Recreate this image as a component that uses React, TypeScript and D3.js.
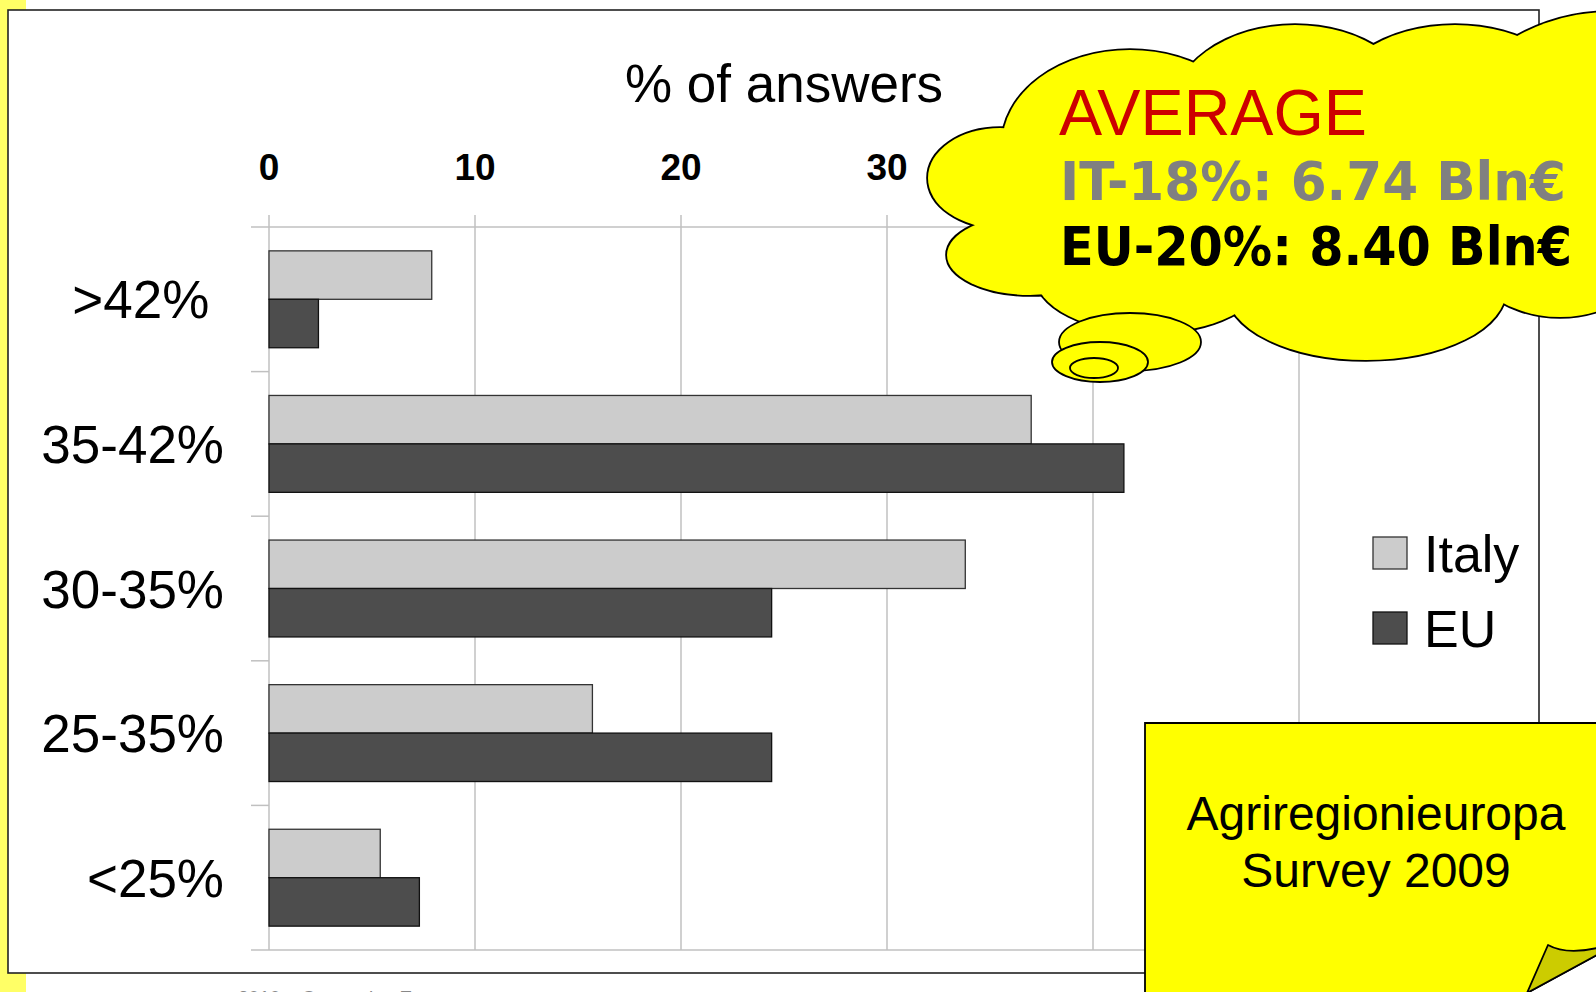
import React from "react";
import * as d3 from "d3";

const categories = [">42% ", "35-42%", "30-35%", "25-35%", "<25%"];
const seriesNames = ["Italy", "EU"];
const italyValues = [7.9, 37.0, 33.8, 15.7, 5.4];
const euValues = [2.4, 41.5, 24.4, 24.4, 7.3];
const xTicks = [0, 10, 20, 30, 40, 50];
const axisTitle = "% of answers";
const calloutTitle = "AVERAGE";
const calloutItaly = "IT-18%: 6.74 Bln€";
const calloutEU = "EU-20%: 8.40 Bln€";
const noteLines = ["Agriregionieuropa", "Survey 2009"];
const footerText = "2010 – Comparing Europe";

const W = 1596;
const H = 992;
const sans = "'Liberation Sans', Arial, Helvetica, sans-serif";
const comic = "'Comic Sans MS', 'DejaVu Sans', sans-serif";

const fills: Record<string, string> = { Italy: "#cccccc", EU: "#4d4d4d" };
const strokes: Record<string, string> = { Italy: "#333333", EU: "#111111" };
const values: Record<string, number[]> = { Italy: italyValues, EU: euValues };

// cloud lobes: [cx, cy, rx, ry]
const lobes: [number, number, number, number][] = [
  [1130, 145, 128, 95],
  [1295, 115, 125, 90],
  [1455, 115, 130, 90],
  [1610, 160, 170, 148],
  [1560, 220, 110, 97],
  [1366, 290, 140, 70],
  [1150, 275, 115, 58],
  [1030, 255, 83, 40],
  [1000, 178, 72, 50],
];

export default function App() {
  const plotTop = 227;
  const plotBottom = 950;
  const x = d3.scaleLinear().domain([0, 50]).range([269, 1299]);
  const y0 = d3
    .scaleBand<string>()
    .domain(categories)
    .range([plotTop, plotBottom])
    .paddingInner(0.33)
    .paddingOuter(0.165);
  const y1 = d3.scaleBand<string>().domain(seriesNames).range([0, y0.bandwidth()]);
  const step = y0.step();
  const sepYs = d3.range(categories.length + 1).map((i) => plotTop + i * step);

  return (
    <svg
      width={W}
      height={H}
      viewBox={`0 0 ${W} ${H}`}
      style={{ position: "absolute", left: 0, top: 0, background: "#fff" }}
    >
      <rect x={0} y={0} width={W} height={H} fill="#ffffff" />
      <rect x={0} y={0} width={26} height={H} fill="#ffff66" />
      <rect x={8} y={10} width={1531} height={963} fill="#ffffff" stroke="#222" strokeWidth={1.6} />

      {/* footer (cut off) */}
      <text x={238} y={1004} fontFamily={sans} fontSize={19} fill="#888">
        {footerText}
      </text>

      {/* axis title */}
      <text x={x(25)} y={102} textAnchor="middle" fontFamily={sans} fontSize={53} fill="#000">
        {axisTitle}
      </text>

      {/* gridlines */}
      {xTicks.map((t) => (
        <line key={"g" + t} x1={x(t)} x2={x(t)} y1={215} y2={plotBottom} stroke="#c0c0c0" strokeWidth={1.5} />
      ))}
      <line x1={251} x2={x(50)} y1={plotTop} y2={plotTop} stroke="#c0c0c0" strokeWidth={1.5} />
      <line x1={251} x2={x(50)} y1={plotBottom} y2={plotBottom} stroke="#c0c0c0" strokeWidth={1.5} />
      {sepYs.slice(1, -1).map((yy, i) => (
        <line key={"s" + i} x1={251} x2={x(0)} y1={yy} y2={yy} stroke="#c0c0c0" strokeWidth={1.5} />
      ))}

      {/* tick labels */}
      {xTicks.map((t) => (
        <text key={"t" + t} x={x(t)} y={180} textAnchor="middle" fontFamily={sans} fontWeight="bold" fontSize={37} fill="#000">
          {t}
        </text>
      ))}

      {/* category labels */}
      {categories.map((c) => (
        <text
          key={"c" + c}
          x={224}
          y={(y0(c) as number) + y0.bandwidth() / 2}
          dy="0.36em"
          textAnchor="end"
          fontFamily={sans}
          fontSize={53}
          fill="#000"
          style={{ whiteSpace: "pre" }}
        >
          {c}
        </text>
      ))}

      {/* bars */}
      {categories.map((c, i) =>
        seriesNames.map((s) => (
          <rect
            key={c + s}
            x={x(0)}
            y={(y0(c) as number) + (y1(s) as number)}
            width={x(values[s][i]) - x(0)}
            height={y1.bandwidth()}
            fill={fills[s]}
            stroke={strokes[s]}
            strokeWidth={1.3}
          />
        ))
      )}

      {/* legend */}
      {seriesNames.map((s, i) => (
        <g key={"l" + s} transform={`translate(1373, ${537 + i * 75})`}>
          <rect x={0} y={0} width={34} height={32} fill={fills[s]} stroke={strokes[s]} strokeWidth={1.3} />
          <text x={51} y={35} fontFamily={sans} fontSize={52} fill="#000">
            {s}
          </text>
        </g>
      ))}

      {/* cloud callout */}
      <g>
        {lobes.map(([cx, cy, rx, ry], i) => (
          <ellipse key={"lo" + i} cx={cx} cy={cy} rx={rx} ry={ry} fill="#ffff00" stroke="#000" strokeWidth={3.6} />
        ))}
        {lobes.map(([cx, cy, rx, ry], i) => (
          <ellipse key={"lf" + i} cx={cx} cy={cy} rx={rx} ry={ry} fill="#ffff00" stroke="none" />
        ))}
        <ellipse cx={1280} cy={190} rx={260} ry={120} fill="#ffff00" />
        <ellipse cx={1130} cy={342} rx={71} ry={29} fill="#ffff00" stroke="#000" strokeWidth={1.8} />
        <ellipse cx={1100} cy={362} rx={48} ry={20} fill="#ffff00" stroke="#000" strokeWidth={1.8} />
        <ellipse cx={1094} cy={368} rx={24} ry={10} fill="#ffff00" stroke="#000" strokeWidth={1.8} />
        <text x={1059} y={135} fontFamily={sans} fontSize={64} fill="#cc0000" textLength={308} lengthAdjust="spacingAndGlyphs">
          {calloutTitle}
        </text>
        <text x={1060} y={200} fontFamily={comic} fontWeight="bold" fontSize={53} fill="#808080" textLength={506} lengthAdjust="spacingAndGlyphs">
          {calloutItaly}
        </text>
        <text x={1060} y={265} fontFamily={comic} fontWeight="bold" fontSize={53} fill="#000" textLength={512} lengthAdjust="spacingAndGlyphs">
          {calloutEU}
        </text>
      </g>

      {/* note box with folded corner */}
      <path d="M1145,723 L1597,723 L1597,955 L1527,993 L1145,993 Z" fill="#ffff00" stroke="#000" strokeWidth={1.8} />
      <path d="M1527,993 L1548,945 Q1566,955 1597,948 L1597,955 Z" fill="#cccc00" stroke="#000" strokeWidth={1.8} strokeLinejoin="round" />
      {noteLines.map((t, i) => (
        <text key={"n" + i} x={1376} y={830 + i * 57} textAnchor="middle" fontFamily={sans} fontSize={48} fill="#000">
          {t}
        </text>
      ))}
    </svg>
  );
}
